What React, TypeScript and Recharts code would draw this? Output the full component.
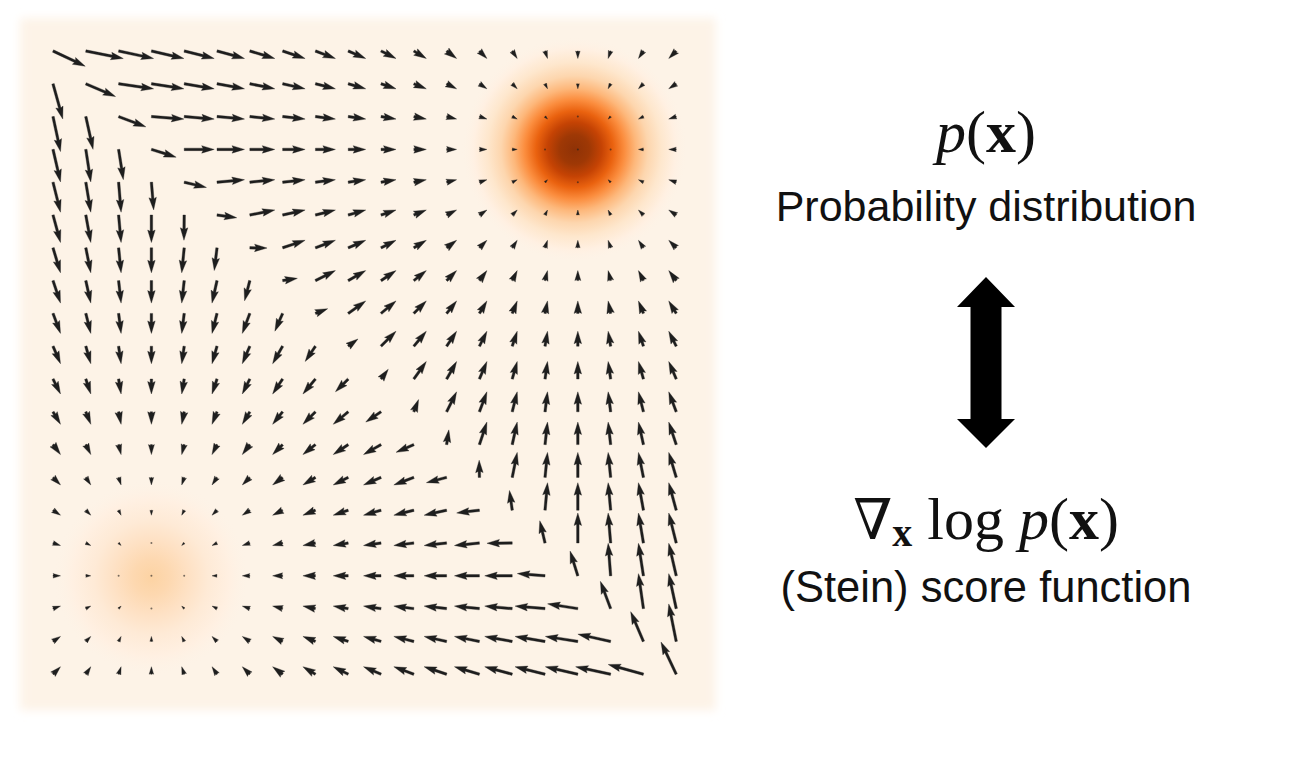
import React from 'react';
import {
  ScatterChart,
  Scatter,
  XAxis,
  YAxis,
  ReferenceArea,
  ReferenceLine,
} from 'recharts';

// ---------- data ----------
const GRID_COLS = [0, 1, 2, 3, 4, 5, 6, 7, 8, 9, 10, 11, 12, 13, 14, 15, 16, 17, 18, 19];
const GRID_ROWS = [0, 1, 2, 3, 4, 5, 6, 7, 8, 9, 10, 11, 12, 13, 14, 15, 16, 17, 18, 19];

// score vectors per grid cell: horizontal component (right = +)
const SCORE_U: number[][] = [
  [12.9, 15, 14, 13, 12, 11, 10, 9, 8, 7, 6, 5, 4, 3, 2, 1, 0, -1, -2, -3],
  [3.9, 11.9, 14, 13, 12, 11, 10, 9, 8, 7, 6, 5, 4, 3, 2, 1, 0, -1, -2, -3],
  [3, 2.9, 10.9, 13, 12, 11, 10, 9, 8, 7, 6, 5, 4, 3, 2, 1, 0, -1, -2, -3],
  [3, 2, 1.9, 9.9, 12, 11, 10, 9, 8, 7, 6, 5, 4, 3, 2, 1, 0, -1, -2, -3],
  [3, 2, 1, 0.9, 8.9, 11, 10, 9, 8, 7, 6, 5, 4, 3, 2, 1, 0, -1, -2, -3],
  [3, 2, 1, 0, -0.1, 7.9, 10, 9, 8, 7, 6, 5, 4, 3, 2, 1, 0, -1, -2, -3],
  [3, 2, 1, 0, -1, -1.1, 6.9, 9, 8, 7, 6, 5, 4, 3, 2, 1, 0, -1, -2, -3],
  [3, 2, 1, 0, -1, -2, -2.1, 5.9, 8, 7, 6, 5, 4, 3, 2, 1, 0, -1, -2, -3],
  [3, 2, 1, 0, -1, -2, -3, -3.1, 4.9, 7, 6, 5, 4, 3, 2, 1, 0, -1, -2, -3],
  [3, 2, 1, 0, -1, -2, -3, -4, -4.1, 3.9, 6, 5, 4, 3, 2, 1, 0, -1, -2, -3],
  [3, 2, 1, 0, -1, -2, -3, -4, -5, -5.1, 2.9, 5, 4, 3, 2, 1, 0, -1, -2, -3],
  [3, 2, 1, 0, -1, -2, -3, -4, -5, -6, -6.1, 1.9, 4, 3, 2, 1, 0, -1, -2, -3],
  [3, 2, 1, 0, -1, -2, -3, -4, -5, -6, -7, -7.1, 0.9, 3, 2, 1, 0, -1, -2, -3],
  [3, 2, 1, 0, -1, -2, -3, -4, -5, -6, -7, -8, -8.1, -0.1, 2, 1, 0, -1, -2, -3],
  [3, 2, 1, 0, -1, -2, -3, -4, -5, -6, -7, -8, -9, -9.1, -1.1, 1, 0, -1, -2, -3],
  [3, 2, 1, 0, -1, -2, -3, -4, -5, -6, -7, -8, -9, -10, -10.1, -2.1, 0, -1, -2, -3],
  [3, 2, 1, 0, -1, -2, -3, -4, -5, -6, -7, -8, -9, -10, -11, -11.1, -3.1, -1, -2, -3],
  [3, 2, 1, 0, -1, -2, -3, -4, -5, -6, -7, -8, -9, -10, -11, -12, -12.1, -4.1, -2, -3],
  [3, 2, 1, 0, -1, -2, -3, -4, -5, -6, -7, -8, -9, -10, -11, -12, -13, -13.1, -5.1, -3],
  [3, 2, 1, 0, -1, -2, -3, -4, -5, -6, -7, -8, -9, -10, -11, -12, -13, -14, -14.1, -6.1],
];

// score vectors per grid cell: vertical component (down = +)
const SCORE_V: number[][] = [
  [6.1, 3, 3, 3, 3, 3, 3, 3, 3, 3, 3, 3, 3, 3, 3, 3, 3, 3, 3, 3],
  [14.1, 5.1, 2, 2, 2, 2, 2, 2, 2, 2, 2, 2, 2, 2, 2, 2, 2, 2, 2, 2],
  [14, 13.1, 4.1, 1, 1, 1, 1, 1, 1, 1, 1, 1, 1, 1, 1, 1, 1, 1, 1, 1],
  [13, 13, 12.1, 3.1, 0, 0, 0, 0, 0, 0, 0, 0, 0, 0, 0, 0, 0, 0, 0, 0],
  [12, 12, 12, 11.1, 2.1, -1, -1, -1, -1, -1, -1, -1, -1, -1, -1, -1, -1, -1, -1, -1],
  [11, 11, 11, 11, 10.1, 1.1, -2, -2, -2, -2, -2, -2, -2, -2, -2, -2, -2, -2, -2, -2],
  [10, 10, 10, 10, 10, 9.1, 0.1, -3, -3, -3, -3, -3, -3, -3, -3, -3, -3, -3, -3, -3],
  [9, 9, 9, 9, 9, 9, 8.1, -0.9, -4, -4, -4, -4, -4, -4, -4, -4, -4, -4, -4, -4],
  [8, 8, 8, 8, 8, 8, 8, 7.1, -1.9, -5, -5, -5, -5, -5, -5, -5, -5, -5, -5, -5],
  [7, 7, 7, 7, 7, 7, 7, 7, 6.1, -2.9, -6, -6, -6, -6, -6, -6, -6, -6, -6, -6],
  [6, 6, 6, 6, 6, 6, 6, 6, 6, 5.1, -3.9, -7, -7, -7, -7, -7, -7, -7, -7, -7],
  [5, 5, 5, 5, 5, 5, 5, 5, 5, 5, 4.1, -4.9, -8, -8, -8, -8, -8, -8, -8, -8],
  [4, 4, 4, 4, 4, 4, 4, 4, 4, 4, 4, 3.1, -5.9, -9, -9, -9, -9, -9, -9, -9],
  [3, 3, 3, 3, 3, 3, 3, 3, 3, 3, 3, 3, 2.1, -6.9, -10, -10, -10, -10, -10, -10],
  [2, 2, 2, 2, 2, 2, 2, 2, 2, 2, 2, 2, 2, 1.1, -7.9, -11, -11, -11, -11, -11],
  [1, 1, 1, 1, 1, 1, 1, 1, 1, 1, 1, 1, 1, 1, 0.1, -8.9, -12, -12, -12, -12],
  [0, 0, 0, 0, 0, 0, 0, 0, 0, 0, 0, 0, 0, 0, 0, -0.9, -9.9, -13, -13, -13],
  [-1, -1, -1, -1, -1, -1, -1, -1, -1, -1, -1, -1, -1, -1, -1, -1, -1.9, -10.9, -14, -14],
  [-2, -2, -2, -2, -2, -2, -2, -2, -2, -2, -2, -2, -2, -2, -2, -2, -2, -2.9, -11.9, -15],
  [-3, -3, -3, -3, -3, -3, -3, -3, -3, -3, -3, -3, -3, -3, -3, -3, -3, -3, -3.9, -12.9],
];

// density modes (grid coordinates)
const MODE_X = [15.9, 3.0];
const MODE_Y = [3.0, 16.05];

// extent of the density image (grid coordinates)
const EXTENT_X = [-1, 20.2];
const EXTENT_Y = [-1, 20.1];

// texts
const LABEL_DISTRIBUTION = 'Probability distribution';
const LABEL_SCORE = '(Stein) score function';

// ---------- styles ----------
const W = 1276;
const H = 748;
const QUIVER_SCALE = 0.0762; // grid units per score unit
const ARROW_COLOR = '#1e1e1e';
const BASE_COLOR = '#fdf3e7';
const SHAFT = 2.5;
const BLOB_RADIUS = [3.45, 3.0]; // grid units (drawing size of each glow)
const BLOB_FILL = ['url(#blobTR)', 'url(#blobBL)'];

const cells = GRID_ROWS.flatMap((r) =>
  GRID_COLS.map((c) => ({ x: c, y: r, u: SCORE_U[r][c], v: SCORE_V[r][c] }))
);

const ArrowShape = (p: any) => {
  const { x1, y1, x2, y2 } = p;
  const dx = x2 - x1;
  const dy = y2 - y1;
  const L = Math.hypot(dx, dy);
  const w = SHAFT;
  if (!isFinite(L) || L < w) {
    return <circle cx={x1} cy={y1} r={w / 2.5} fill={ARROW_COLOR} fillOpacity={0.6} />;
  }
  const hl = 5 * w;
  const hal = 4.5 * w;
  const hw = 3 * w;
  const s = L < hl ? L / hl : 1;
  const len = L < hl ? hl : L;
  const local = [
    [0, -w / 2],
    [len - hal, -w / 2],
    [len - hl, -hw / 2],
    [len, 0],
    [len - hl, hw / 2],
    [len - hal, w / 2],
    [0, w / 2],
  ];
  const cs = dx / L;
  const sn = dy / L;
  const pts = local
    .map(([a, b]) => `${(x1 + s * (a * cs - b * sn)).toFixed(2)},${(y1 + s * (a * sn + b * cs)).toFixed(2)}`)
    .join(' ');
  return <polygon points={pts} fill={ARROW_COLOR} stroke={ARROW_COLOR} strokeWidth={0.35} strokeLinejoin="round" />;
};

const Defs = () => (
  <defs>
    <filter id="softEdge" x="-5%" y="-5%" width="110%" height="110%">
      <feGaussianBlur stdDeviation="5" />
    </filter>
    <radialGradient id="blobTR" cx="50%" cy="50%" r="50%">
      <stop offset="0%" stopColor="#8f3206" />
      <stop offset="13%" stopColor="#9e3805" />
      <stop offset="24%" stopColor="#c54304" />
      <stop offset="34%" stopColor="#ea620f" />
      <stop offset="44%" stopColor="#fb8d3e" />
      <stop offset="54%" stopColor="#fdb77a" />
      <stop offset="65%" stopColor="#fdd6ae" />
      <stop offset="77%" stopColor="#fee7cd" />
      <stop offset="89%" stopColor="#fff0e2" />
      <stop offset="100%" stopColor={BASE_COLOR} stopOpacity={0} />
    </radialGradient>
    <radialGradient id="blobBL" cx="50%" cy="50%" r="50%">
      <stop offset="0%" stopColor="#fcd3a3" />
      <stop offset="18%" stopColor="#fdd8b0" />
      <stop offset="38%" stopColor="#fee1c4" />
      <stop offset="58%" stopColor="#feead6" />
      <stop offset="80%" stopColor="#fff0e2" />
      <stop offset="100%" stopColor={BASE_COLOR} stopOpacity={0} />
    </radialGradient>
  </defs>
);

const BackgroundShape = (p: any) => (
  <g>
    <Defs />
    <rect x={p.x} y={p.y} width={p.width} height={p.height} fill={BASE_COLOR} filter="url(#softEdge)" />
  </g>
);

const blobShape = (i: number) => (p: any) => (
  <ellipse
    cx={p.x + p.width / 2}
    cy={p.y + p.height / 2}
    rx={Math.abs(p.width) / 2}
    ry={Math.abs(p.height) / 2}
    fill={BLOB_FILL[i]}
  />
);

const Empty = () => <g />;

export default function App() {
  const cx = 978;
  return (
    <div style={{ position: 'relative', width: W, height: H, background: '#fff' }}>
      <ScatterChart
        width={W}
        height={H}
        margin={{ left: 12.2, top: 10.2, right: 568.4, bottom: 45.7 }}
      >
        <XAxis type="number" dataKey="x" domain={EXTENT_X} allowDataOverflow hide />
        <YAxis type="number" dataKey="y" domain={EXTENT_Y} allowDataOverflow reversed hide />
        <ReferenceArea
          x1={EXTENT_X[0]}
          x2={EXTENT_X[1]}
          y1={EXTENT_Y[0]}
          y2={EXTENT_Y[1]}
          ifOverflow="visible"
          shape={BackgroundShape}
        />
        {MODE_X.map((mx, i) => (
          <ReferenceArea
            key={'m' + i}
            x1={mx - BLOB_RADIUS[i]}
            x2={mx + BLOB_RADIUS[i]}
            y1={MODE_Y[i] - BLOB_RADIUS[i]}
            y2={MODE_Y[i] + BLOB_RADIUS[i]}
            ifOverflow="visible"
            shape={blobShape(i)}
          />
        ))}
        {cells.map((a, i) => (
          <ReferenceLine
            key={'a' + i}
            segment={[
              { x: a.x, y: a.y },
              { x: a.x + a.u * QUIVER_SCALE, y: a.y + a.v * QUIVER_SCALE },
            ]}
            ifOverflow="visible"
            shape={ArrowShape}
          />
        ))}
        <Scatter data={cells} shape={Empty} isAnimationActive={false} />
      </ScatterChart>
      <svg
        width={W}
        height={H}
        style={{ position: 'absolute', left: 0, top: 0, pointerEvents: 'none' }}
      >
        <text x={cx} y={144} textAnchor="middle" fontFamily="'Liberation Serif', serif" fontSize={60} fill="#111">
          <tspan fontStyle="italic">p</tspan>
          <tspan>(</tspan>
          <tspan fontWeight="bold">x</tspan>
          <tspan>)</tspan>
        </text>
        <text x={cx} y={213} textAnchor="middle" fontFamily="'Liberation Sans', Arial, sans-serif" fontSize={43} fill="#111">
          {LABEL_DISTRIBUTION}
        </text>
        <polygon
          points={`${cx},269 ${cx + 29},299 ${cx + 15.5},299 ${cx + 15.5},411 ${cx + 29},411 ${cx},440 ${cx - 29},411 ${cx - 15.5},411 ${cx - 15.5},299 ${cx - 29},299`}
          fill="#000"
        />
        <text x={cx} y={531} textAnchor="middle" fontFamily="'Liberation Serif', serif" fontSize={60} fill="#111">
          <tspan fontFamily="'DejaVu Serif', serif" fontSize={56}>∇</tspan>
          <tspan fontWeight="bold" fontSize={40} dy={7}>x</tspan>
          <tspan dy={-7}> log </tspan>
          <tspan fontStyle="italic">p</tspan>
          <tspan>(</tspan>
          <tspan fontWeight="bold">x</tspan>
          <tspan>)</tspan>
        </text>
        <text x={cx} y={594} textAnchor="middle" fontFamily="'Liberation Sans', Arial, sans-serif" fontSize={43.5} fill="#111">
          {LABEL_SCORE}
        </text>
      </svg>
    </div>
  );
}
